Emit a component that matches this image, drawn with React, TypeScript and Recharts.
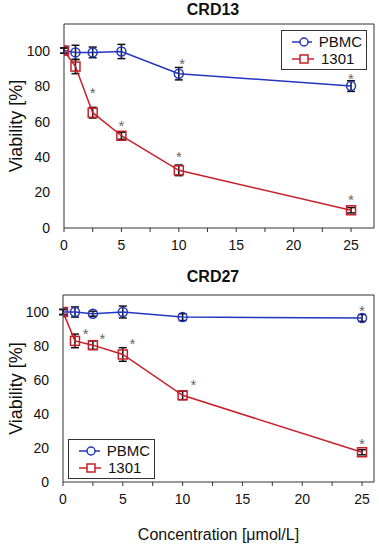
import React from 'react';
import { ComposedChart, Line, XAxis, YAxis, ErrorBar, ReferenceLine, Legend, Label } from 'recharts';

// concentrations (µmol/L)
const concentrations = [0, 1, 2.5, 5, 10, 25];

// CRD13
const crd13Pbmc = [100, 99, 99, 99.5, 87, 80];
const crd13PbmcErr = [1.5, 4, 3, 4, 3.5, 3];
const crd13Cell = [100, 91, 65, 52, 32.5, 10];
const crd13CellErr = [1.5, 4, 3, 2, 3, 1.5];
const crd13StarsX = [2.5, 5, 10, 25, 10.3, 25];
const crd13StarsY = [77, 58.5, 41, 17, 93.5, 85];

// CRD27
const crd27Pbmc = [100, 100, 99, 100, 97, 96.5];
const crd27PbmcErr = [1.5, 3, 1.5, 3.5, 2, 2];
const crd27Cell = [100, 83, 80.5, 75, 51, 17.5];
const crd27CellErr = [1.5, 4, 2.5, 4, 2.5, 1.5];
const crd27StarsX = [1.9, 3.3, 5.8, 10.9, 25, 25];
const crd27StarsY = [88.5, 85.5, 82.5, 58.5, 23.5, 102];

const xTicks = [0, 2.5, 5, 7.5, 10, 12.5, 15, 17.5, 20, 22.5, 25];
const yTicks = [0, 20, 40, 60, 80, 100];
const legendOrder = ['PBMC', '1301'];

const BLUE = '#2336c0';
const RED = '#c8202a';
const AXIS = '#333';
const FONT = '"Liberation Sans", Arial, sans-serif';

const toRows = (vals: number[], errs: number[]) =>
  concentrations.map((x, i) => ({ x, y: vals[i], err: errs[i] }));

const toStars = (xs: number[], ys: number[]) => xs.map((x, i) => ({ x, y: ys[i] }));

const circleDot = (props: any) => (
  <circle key={`c${props.index}`} cx={props.cx} cy={props.cy} r={4.5} fill="none" stroke={BLUE} strokeWidth={1.5} />
);

const squareDot = (props: any) => (
  <rect key={`s${props.index}`} x={props.cx - 4.5} y={props.cy - 4.5} width={9} height={9} fill="none" stroke={RED} strokeWidth={1.5} />
);

const starDot = (props: any) => (
  <text key={`t${props.index}`} x={props.cx} y={props.cy + 7} textAnchor="middle" fontSize={15} fontFamily={FONT} fill="#666">*</text>
);

const LegendBox = (props: any) => {
  const items = (props.payload || [])
    .filter((p: any) => legendOrder.includes(p.value))
    .sort((a: any, b: any) => legendOrder.indexOf(a.value) - legendOrder.indexOf(b.value));
  return (
    <div style={{ border: `1px solid ${AXIS}`, background: '#fff', padding: '2px 4px 2px 10px', fontFamily: FONT, fontSize: 15, lineHeight: '17px', color: '#111' }}>
      {items.map((p: any) => (
        <div key={p.value} style={{ display: 'flex', alignItems: 'center', height: 17 }}>
          <svg width={22} height={12} style={{ marginRight: 7 }}>
            <line x1={0} y1={6} x2={22} y2={6} stroke={p.color} strokeWidth={1.5} />
            {p.value === 'PBMC'
              ? <circle cx={12} cy={6} r={4} fill="#fff" stroke={p.color} strokeWidth={1.5} />
              : <rect x={8} y={2} width={8} height={8} fill="#fff" stroke={p.color} strokeWidth={1.5} />}
          </svg>
          <span>{p.value}</span>
        </div>
      ))}
    </div>
  );
};

interface PanelProps {
  title: string;
  titleTop: number;
  pbmc: { x: number; y: number; err: number }[];
  cell: { x: number; y: number; err: number }[];
  stars: { x: number; y: number }[];
  yMax: number;
  xMax: number;
  height: number;
  margin: { top: number; right: number; left: number; bottom: number };
  yWidth: number;
  xHeight: number;
  legendPos: { left: number; top: number; width: number };
  xLabel?: string;
}

const Panel = ({ title, titleTop, pbmc, cell, stars, yMax, xMax, height, margin, yWidth, xHeight, legendPos, xLabel }: PanelProps) => (
  <div style={{ position: 'relative', width: 379, height }}>
    <div style={{ position: 'absolute', top: titleTop, left: 213, transform: 'translateX(-50%)', fontFamily: FONT, fontWeight: 'bold', fontSize: 16, lineHeight: '18px', color: '#111', zIndex: 2 }}>
      {title}
    </div>
    <ComposedChart width={379} height={height} margin={margin}>
      <XAxis
        dataKey="x"
        type="number"
        domain={[0, xMax]}
        ticks={xTicks}
        interval={0}
        height={xHeight}
        tickFormatter={(v: number) => (v % 5 === 0 ? String(v) : '')}
        stroke={AXIS}
        tickSize={4}
        tickMargin={8}
        tick={{ fontSize: 14, fill: '#111', fontFamily: FONT }}
        allowDataOverflow
      >
        {xLabel && (
          <Label value={xLabel} position="insideBottom" offset={2} style={{ fontSize: 16, fill: '#111', fontFamily: FONT }} />
        )}
      </XAxis>
      <YAxis
        type="number"
        domain={[0, yMax]}
        ticks={yTicks}
        width={yWidth}
        stroke={AXIS}
        tickLine={false}
        tickSize={6}
        tickMargin={8}
        tick={{ fontSize: 14, fill: '#111', fontFamily: FONT }}
        allowDataOverflow
      >
        <Label value="Viability [%]" angle={-90} position="center" dx={-16} style={{ fontSize: 18, fill: '#111', fontFamily: FONT }} />
      </YAxis>
      <ReferenceLine y={yMax} stroke={AXIS} />
      <ReferenceLine x={xMax} stroke={AXIS} />
      <Legend
        layout="vertical"
        align="center"
        verticalAlign="middle"
        content={LegendBox}
        wrapperStyle={{ left: legendPos.left, top: legendPos.top, width: legendPos.width }}
      />
      <Line data={pbmc} dataKey="y" name="PBMC" stroke={BLUE} strokeWidth={1.5} dot={circleDot} isAnimationActive={false}>
        <ErrorBar dataKey="err" direction="y" width={4} stroke="#111" strokeWidth={1.5} />
      </Line>
      <Line data={cell} dataKey="y" name="1301" stroke={RED} strokeWidth={1.5} dot={squareDot} isAnimationActive={false}>
        <ErrorBar dataKey="err" direction="y" width={4} stroke="#111" strokeWidth={1.5} />
      </Line>
      <Line data={stars} dataKey="y" name="stars" stroke="none" legendType="none" dot={starDot} activeDot={false} isAnimationActive={false} />
    </ComposedChart>
  </div>
);

export default function App() {
  return (
    <div style={{ position: 'absolute', left: 0, top: 0, width: 379, height: 550, background: '#fff' }}>
      <Panel
        title="CRD13"
        titleTop={1}
        pbmc={toRows(crd13Pbmc, crd13PbmcErr)}
        cell={toRows(crd13Cell, crd13CellErr)}
        stars={toStars(crd13StarsX, crd13StarsY)}
        yMax={115}
        xMax={27}
        height={270}
        margin={{ top: 24, right: 5, left: 0, bottom: 0 }}
        yWidth={64}
        xHeight={42}
        legendPos={{ left: 281, top: 30, width: 86 }}
      />
      <Panel
        title="CRD27"
        titleTop={-2}
        pbmc={toRows(crd27Pbmc, crd27PbmcErr)}
        cell={toRows(crd27Cell, crd27CellErr)}
        stars={toStars(crd27StarsX, crd27StarsY)}
        yMax={110}
        xMax={26}
        height={280}
        margin={{ top: 25, right: 5, left: 0, bottom: 8 }}
        yWidth={63}
        xHeight={60}
        legendPos={{ left: 68, top: 169, width: 87 }}
        xLabel="Concentration [μmol/L]"
      />
    </div>
  );
}
